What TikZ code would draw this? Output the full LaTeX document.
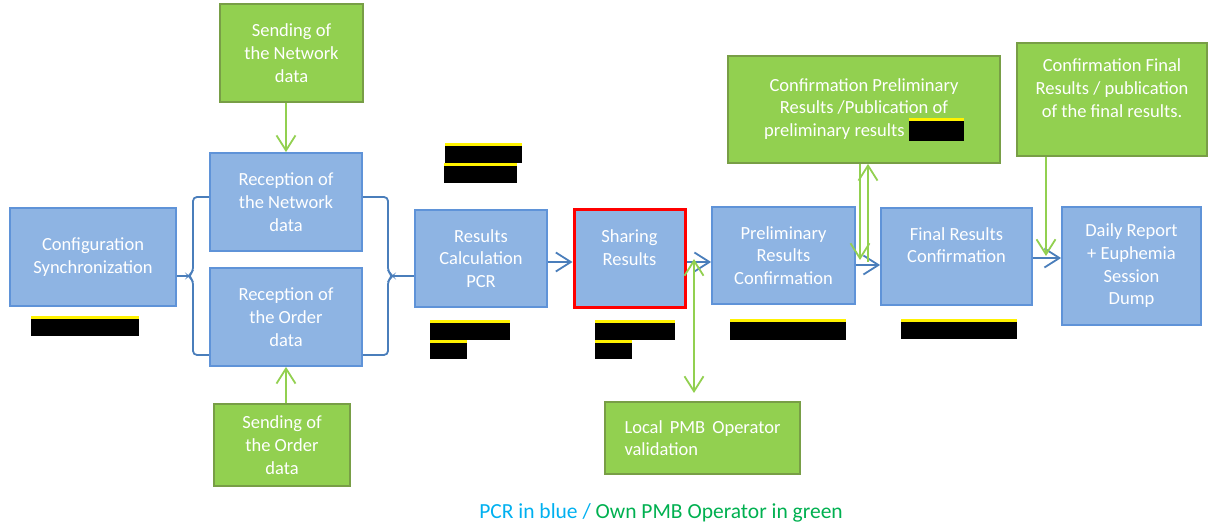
\documentclass[tikz,border=0pt]{standalone}
\usepackage{fontspec}
\setmainfont{Carlito}
\usetikzlibrary{arrows.meta}
\definecolor{pcrfill}{HTML}{8EB4E3}
\definecolor{pcredge}{HTML}{5F93D8}
\definecolor{pcrline}{HTML}{4A7EBB}
\definecolor{pmbfill}{HTML}{92D050}
\definecolor{pmbedge}{HTML}{789E46}
\definecolor{legblue}{HTML}{00B0F0}
\definecolor{leggreen}{HTML}{00B050}
% black masking bars with a yellow top edge
\newcommand{\blackbar}[4]{\fill[black] (#1,#2) rectangle (#3,#4); \fill[yellow] (#1,#2) rectangle (#3,#2+3);}
\newcommand{\inlinebar}{\rlap{\color{yellow}\rule[16pt]{55pt}{3pt}}{\color{black}\rule[-4pt]{55pt}{20pt}}}
\tikzset{
  pcr/.style={draw=pcredge,fill=pcrfill,line width=1.8pt,text=white,align=center,inner sep=0pt},
  pmb/.style={draw=pmbedge,fill=pmbfill,line width=1.8pt,text=white,align=center,inner sep=0pt},
  flow/.style={draw=pcrline,line width=1.8pt},
  feed/.style={draw=pmbfill,line width=1.8pt}
}
\begin{document}
\begin{tikzpicture}[x=1pt,y=-1pt,>={Straight Barb[length=15pt,width=19pt]},font=\fontsize{18.5}{22.7}\selectfont]
	\useasboundingbox (0,0) rectangle (1216,526);
	% PCR steps
	\node[pcr,minimum width=166pt,minimum height=98pt] (cfg) at (93,257) {Configuration\\Synchronization};
	\node[pcr,minimum width=152pt,minimum height=98pt] (recnet) at (286,202) {Reception of\\the Network\\data};
	\node[pcr,minimum width=152pt,minimum height=98pt] (record) at (286,317) {Reception of\\the Order\\data};
	\node[pcr,minimum width=132pt,minimum height=97pt] (calc) at (481,258.5) {Results\\Calculation\\PCR};
	\node[pcr,draw=red,line width=3pt,minimum width=111pt,minimum height=98pt] (share) at (629.5,259) {Sharing\\Results\\\mbox{}};
	\node[pcr,minimum width=143pt,minimum height=97pt] (prelim) at (783.5,255.5) {Preliminary\\Results\\Confirmation};
	\node[pcr,minimum width=151pt,minimum height=97pt] (final) at (956.5,256.5) {Final Results\\Confirmation\\\mbox{}};
	\node[pcr,minimum width=139pt,minimum height=118pt] (daily) at (1131.5,266) {Daily Report\\+ Euphemia\\Session\\Dump};
	% own PMB operator steps
	\node[pmb,minimum width=143pt,minimum height=98pt] (sendnet) at (291.5,53) {Sending of\\the Network\\data};
	\node[pmb,minimum width=136pt,minimum height=82pt] (sendord) at (282,445) {Sending of\\the Order\\data};
	\node[pmb,minimum width=272pt,minimum height=107pt] (confprel) at (864,109.5) {Confirmation Preliminary\\Results /Publication of\\preliminary results \inlinebar};
	\node[pmb,minimum width=190pt,minimum height=113pt] (conffin) at (1112,99.5) {Confirmation Final\\Results / publication\\of the final results.\\\mbox{}};
	\node[pmb,minimum width=195pt,minimum height=72pt,text width=156pt,align=justify] (local) at (702.5,438) {Local PMB Operator validation};
	% braces round the two receptions
	\coordinate (ltip) at (188,276);
	\coordinate (rtip) at (393,276);
	\draw[flow,rounded corners=4pt] (recnet.west |- 0,197) -- (193,197) -- (193,272) -- (ltip) -- (193,280) -- (193,355) -- (record.west |- 0,355);
	\draw[flow,rounded corners=4pt] (recnet.east |- 0,197) -- (388,197) -- (388,272) -- (rtip) -- (388,280) -- (388,355) -- (record.east |- 0,355);
	\draw[flow] (cfg.east |- ltip) -- (ltip);
	\draw[flow] (rtip) -- (calc.west |- rtip);
	% flow arrows
	\draw[flow,->] (calc.east |- 0,262) -- (share.west |- 0,262);
	\draw[flow,->] (share.east |- 0,262) -- (prelim.west |- 0,262);
	\draw[flow,->] (prelim.east |- 0,265) -- (final.west |- 0,265);
	\draw[flow,->] (final.east |- 0,258) -- (daily.west |- 0,258);
	% operator arrows
	\coordinate (lbot) at (694,393);
	\coordinate (pdn) at (860,260);
	\coordinate (pup) at (868,262);
	\coordinate (fdn) at (1046,256);
	\draw[feed,->] (sendnet.south -| recnet.north) -- (recnet.north);
	\draw[feed,->] (sendord.north -| record.south) -- (record.south);
	\draw[feed,<->] (lbot) -- (lbot |- share.east);
	\draw[feed,->] (confprel.south -| pdn) -- (pdn);
	\draw[feed,->] (pup) -- (pup |- confprel.south);
	\draw[feed,->] (conffin.south -| fdn) -- (fdn);
	% masked notes
	\blackbar{31}{316}{139}{336}
	\blackbar{445}{143}{522}{163}
	\blackbar{444}{163}{517}{183}
	\blackbar{430}{320}{510}{340}
	\blackbar{430}{340}{467}{359}
	\blackbar{595}{320}{675}{340}
	\blackbar{595}{340}{632}{359}
	\blackbar{730}{319}{846}{340}
	\blackbar{901}{319}{1017}{339}
	% legend
	\node[font=\fontsize{21.5}{26}\selectfont] (legend) at (661,513) {\textcolor{legblue}{PCR in blue /} \textcolor{leggreen}{Own PMB Operator in green}};
\end{tikzpicture}
\end{document}
